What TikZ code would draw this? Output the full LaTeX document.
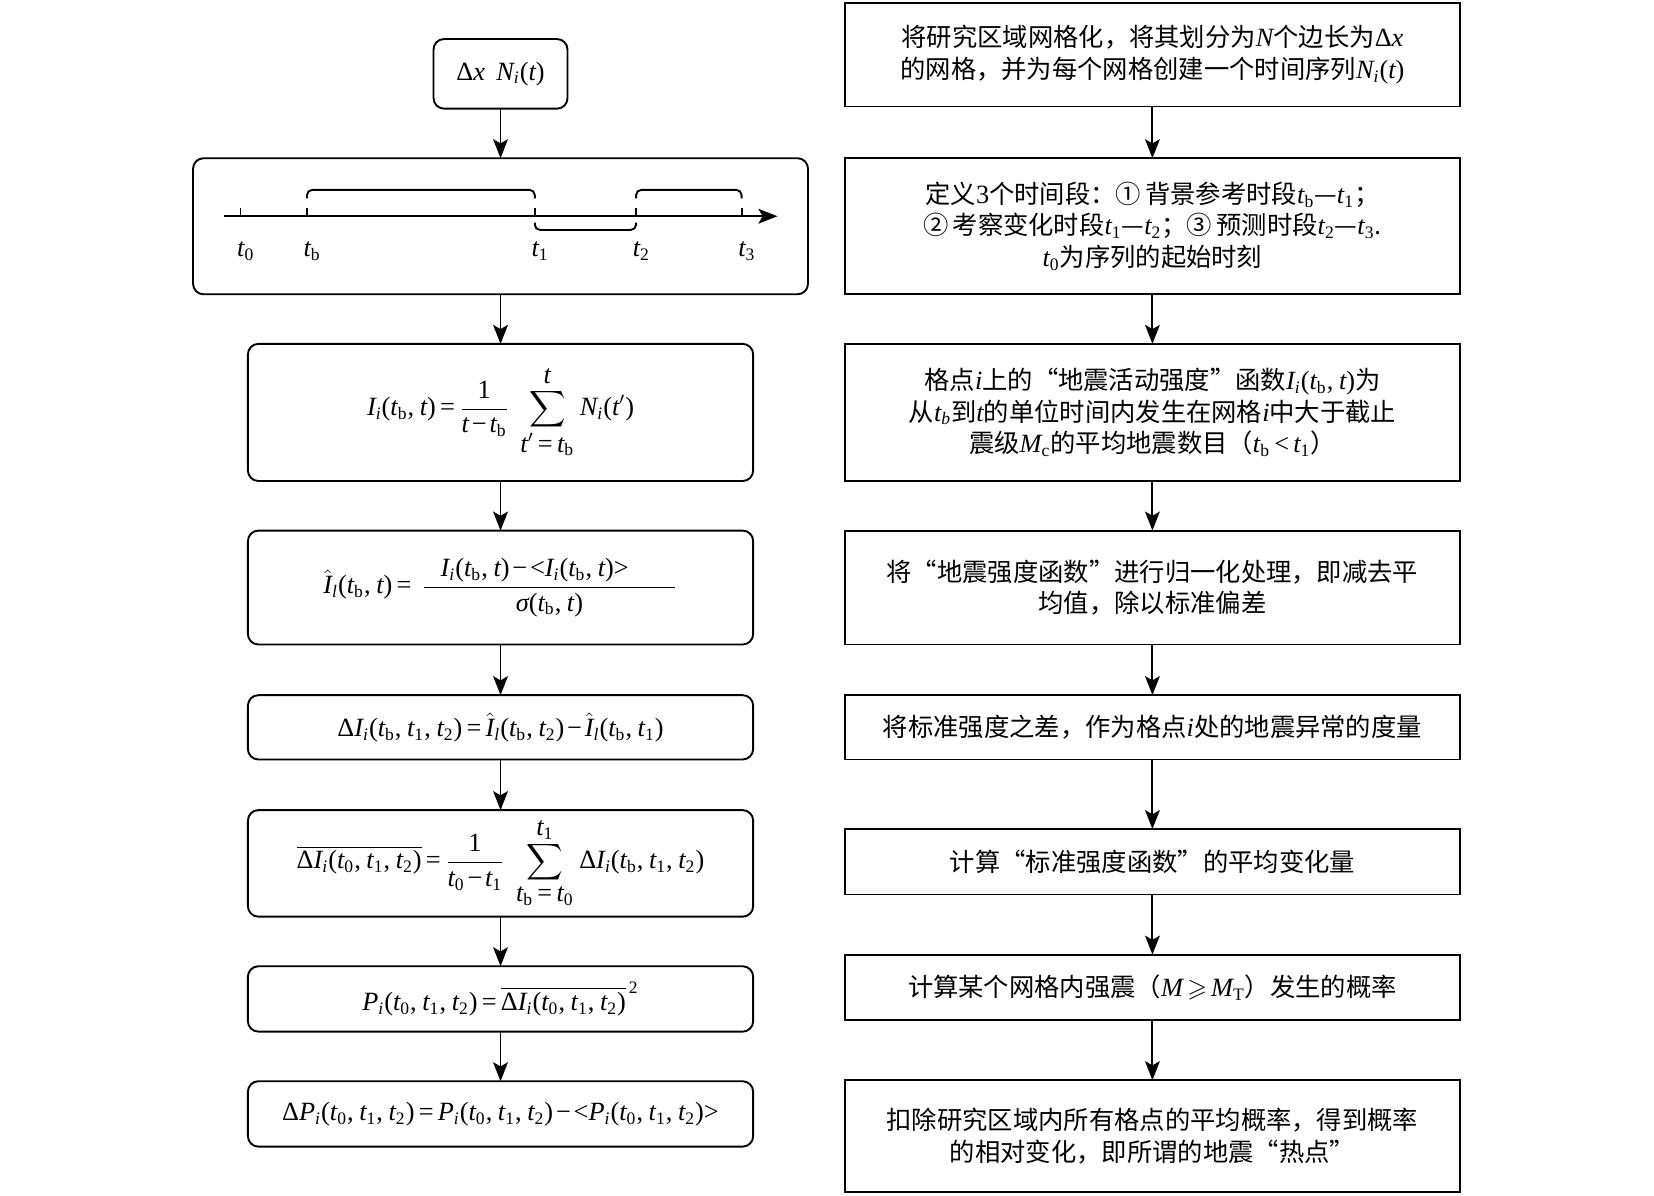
\documentclass[tikz,border=0pt]{standalone}
\usepackage{amssymb}
\usepackage{fontspec}
\setmainfont{Noto Sans CJK SC}
\newfontfamily\libser{Liberation Serif}[NFSSFamily=libser,Scale=1.04]
\DeclareSymbolFont{tletters}{TU}{libser}{m}{it}
\DeclareSymbolFont{trm}{TU}{libser}{m}{n}
\DeclareMathAlphabet{\tmrm}{TU}{libser}{m}{n}
\usetikzlibrary{arrows.meta}
\newcommand{\rb}{\tmrm{b}}
\begin{document}
\Umathcode`t=7 \symtletters `t\relax
\Umathcode`i=7 \symtletters `i\relax
\Umathcode`l=7 \symtletters `l\relax
\Umathcode`x=7 \symtletters `x\relax
\Umathcode`b=7 \symtletters `b\relax
\Umathcode`N=7 \symtletters `N\relax
\Umathcode`I=7 \symtletters `I\relax
\Umathcode`P=7 \symtletters `P\relax
\Umathcode`M=7 \symtletters `M\relax
\Umathcode`0=7 \symtrm `0\relax
\Umathcode`1=7 \symtrm `1\relax
\Umathcode`2=7 \symtrm `2\relax
\Umathcode`3=7 \symtrm `3\relax
\Umathcode`(=4 \symtrm `(\relax
\Umathcode`)=5 \symtrm `)\relax
\Umathcode`,=6 \symtrm `,\relax
\Umathcode`==3 \symtrm `=\relax
\Umathcode`<=3 \symtrm `<\relax
\Umathcode`>=3 \symtrm `>\relax
\Umathcode`-=2 \symtrm "2212\relax
\Umathchardef\Delta=0 \symtrm "0394\relax
\Umathchardef\sigma=0 \symtletters "03C3\relax
\begin{tikzpicture}[x=0.5pt,y=-0.5pt,
  every node/.style={font=\fontsize{12pt}{15pt}\selectfont},
  base/.style={draw,line width=0.9pt,inner sep=0pt,outer sep=0pt,align=center},
  lbox/.style={base,rounded corners=5pt,minimum width=239.5pt},
  rbox/.style={base,minimum width=291.5pt},
  arr/.style={line width=0.9pt,-{Stealth[length=9pt,width=7pt,inset=2pt]}},
  tl/.style={line width=0.9pt}]
\useasboundingbox (0,0) rectangle (1568,1133);
\thickmuskip=3mu plus 1mu\medmuskip=2mu\thinmuskip=4mu
% left column
\node[base,rounded corners=5pt,minimum width=63.5pt,minimum height=33pt] (n0) at (474.5,70) {$\Delta x\ \ N_i(t)$};
\node[base,rounded corners=5pt,minimum width=291.5pt,minimum height=64.5pt] (n1) at (474.5,214.5) {};
\node[lbox,minimum height=65pt] (n2) at (474.5,391) {$\displaystyle I_i(t_\rb,t)=\frac{1}{t-t_\rb}\ \sum\limits_{\textstyle t'=t_\rb}^{\textstyle t}N_i(t')$};
\node[lbox,minimum height=54pt] (n3) at (474.5,557) {$\displaystyle \hat I_l(t_\rb,t)=\ \frac{\hspace{8pt}I_i(t_\rb,t)-\mathord{<}I_i(t_\rb,t)\mathord{>}\hspace{22pt}}{\sigma(t_\rb,t)}$};
\node[lbox,minimum height=30.5pt] (n4) at (474.5,689.5) {$\Delta I_i(t_\rb,t_1,t_2)=\hat I_l(t_\rb,t_2)-\hat I_l(t_\rb,t_1)$};
\node[lbox,minimum height=50.5pt] (n5) at (474.5,818.5) {$\displaystyle \overline{\Delta I_i(t_0,t_1,t_2)}=\frac{1}{t_0-t_1}\,\sum\limits_{\textstyle t_\rb=t_0}^{\textstyle t_1}\Delta I_i(t_\rb,t_1,t_2)$};
\node[lbox,minimum height=31pt] (n6) at (474.5,947) {$P_i(t_0,t_1,t_2)=\overline{\Delta I_i(t_0,t_1,t_2)}^{\;2}$};
\node[lbox,minimum height=31pt] (n7) at (474.5,1056) {$\Delta P_i(t_0,t_1,t_2)=P_i(t_0,t_1,t_2)-\mathord{<}P_i(t_0,t_1,t_2)\mathord{>}$};
% timeline
\coordinate (ax0) at (212,205);
\coordinate (ax1) at (737,205);
\draw[arr] (ax0) -- (ax1);
\foreach \xx in {228,291,507,603,703} \draw[tl] (\xx,205) -- (\xx,197);
\draw[tl,rounded corners=2.5pt] (291,188) -- (291,180) -- (507,180) -- (507,188);
\draw[tl,rounded corners=2.5pt] (603,188) -- (603,180) -- (703,180) -- (703,188);
\draw[tl,rounded corners=2.5pt] (507,211) -- (507,218) -- (603,218) -- (603,211);
\node (lt0) at (233,238) {$t_0$};
\node (ltb) at (296,238) {$t_\rb$};
\node (lt1) at (512,238) {$t_1$};
\node (lt2) at (608,238) {$t_2$};
\node (lt3) at (708,238) {$t_3$};
% right column
\node[rbox,minimum height=49pt] (r1) at (1092.5,52) {将研究区域网格化，将其划分为$N$个边长为$\Delta x$\\的网格，并为每个网格创建一个时间序列$N_i(t)$};
\node[rbox,minimum height=64.5pt] (r2) at (1092.5,214.5) {定义$3$个时间段：①\,背景参考时段$t_\rb$—$t_1$；\\②\,考察变化时段$t_1$—$t_2$；③\,预测时段$t_2$—$t_3$.\\$t_0$为序列的起始时刻};
\node[rbox,minimum height=65pt] (r3) at (1092.5,391) {格点$i$上的“地震活动强度”函数$I_i(t_\rb,t)$为\\从$t_b$到$t$的单位时间内发生在网格$i$中大于截止\\震级$M_{\tmrm{c}}$的平均地震数目（$t_\rb<t_1$）};
\node[rbox,minimum height=54pt] (r4) at (1092.5,557) {将“地震强度函数”进行归一化处理，即减去平\\均值，除以标准偏差};
\node[rbox,minimum height=30.5pt] (r5) at (1092.5,689.5) {将标准强度之差，作为格点$i$处的地震异常的度量};
\node[rbox,minimum height=31pt] (r6) at (1092.5,817) {计算“标准强度函数”的平均变化量};
\node[rbox,minimum height=31pt] (r7) at (1092.5,936) {计算某个网格内强震（$M\geqslant M_{\tmrm{T}}$）发生的概率};
\node[rbox,minimum height=53pt] (r8) at (1092.5,1077) {扣除研究区域内所有格点的平均概率，得到概率\\的相对变化，即所谓的地震“热点”};
% arrows
\foreach \a/\b in {n0/n1,n1/n2,n2/n3,n3/n4,n4/n5,n5/n6,n6/n7,r1/r2,r2/r3,r3/r4,r4/r5,r5/r6,r6/r7,r7/r8}
  \draw[arr] (\a) -- (\b);
\end{tikzpicture}
\end{document}
